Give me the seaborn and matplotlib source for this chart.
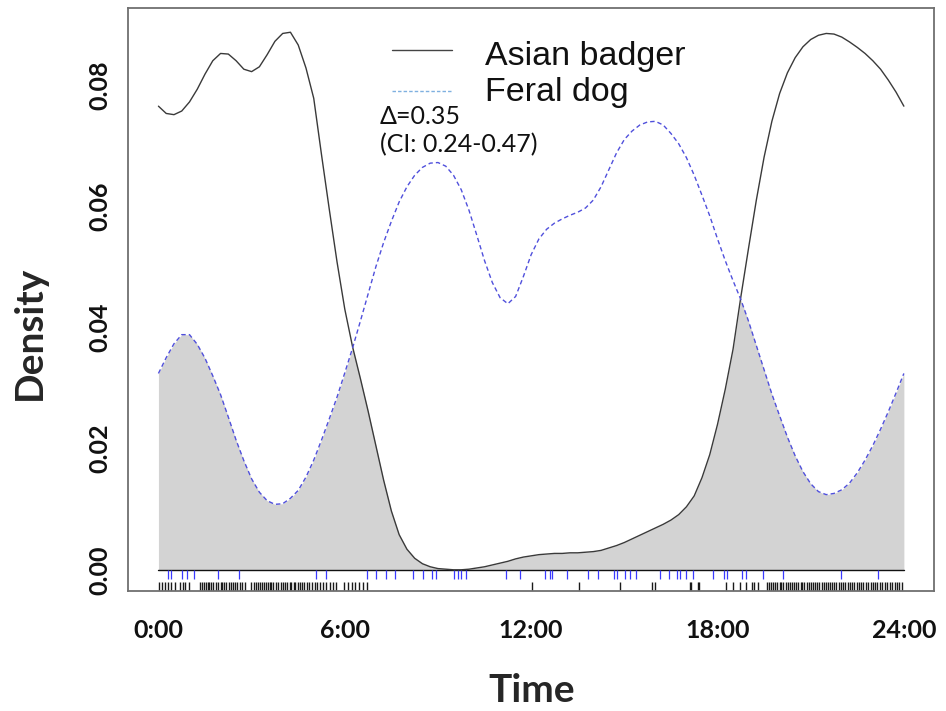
import numpy as np
import pandas as pd
import matplotlib
matplotlib.use("Agg")
import matplotlib.pyplot as plt
from matplotlib.lines import Line2D
import seaborn as sns

# Time-of-day grid (hours) shared by both activity density curves
hours = np.arange(0, 24.01, 0.25)

badger_density = [
    0.0765, 0.0753, 0.0751, 0.0757, 0.0772, 0.0793, 0.0818, 0.0840,
    0.0852, 0.0851, 0.0840, 0.0826, 0.0822, 0.0830, 0.0850, 0.0872,
    0.0885, 0.0887, 0.0866, 0.0828, 0.0778, 0.0685, 0.0595, 0.0508,
    0.0430, 0.0368, 0.0316, 0.0262, 0.0205, 0.0148, 0.0097, 0.0058,
    0.0034, 0.0019, 0.0010, 0.0005, 0.0002, 0.0001, 0.0000, 0.0000,
    0.0001, 0.0003, 0.0005, 0.0008, 0.0011, 0.0014, 0.0018, 0.0021,
    0.0023, 0.0025, 0.0026, 0.0027, 0.0027, 0.0028, 0.0028, 0.0029,
    0.0030, 0.0032, 0.0036, 0.0040, 0.0045, 0.0051, 0.0057, 0.0063,
    0.0069, 0.0075, 0.0082, 0.0091, 0.0104, 0.0122, 0.0152, 0.0190,
    0.0240, 0.0298, 0.0364, 0.0450, 0.0531, 0.0610, 0.0681, 0.0740,
    0.0786, 0.0820, 0.0845, 0.0863, 0.0875, 0.0882, 0.0885, 0.0884,
    0.0879, 0.0871, 0.0862, 0.0852, 0.0840, 0.0826, 0.0808, 0.0788,
    0.0765,
]

dog_density = [
    0.0324, 0.0350, 0.0373, 0.0388, 0.0388, 0.0372, 0.0349, 0.0320,
    0.0289, 0.0252, 0.0214, 0.0180, 0.0150, 0.0128, 0.0114, 0.0108,
    0.0109, 0.0118, 0.0131, 0.0153, 0.0181, 0.0214, 0.0249, 0.0285,
    0.0325, 0.0366, 0.0410, 0.0455, 0.0500, 0.0540, 0.0575, 0.0607,
    0.0632, 0.0651, 0.0664, 0.0671, 0.0672, 0.0666, 0.0651, 0.0627,
    0.0593, 0.0552, 0.0510, 0.0474, 0.0449, 0.0439, 0.0451, 0.0484,
    0.0520, 0.0546, 0.0562, 0.0572, 0.0579, 0.0585, 0.0590, 0.0597,
    0.0610, 0.0632, 0.0660, 0.0688, 0.0710, 0.0724, 0.0734, 0.0739,
    0.0740, 0.0734, 0.0720, 0.0703, 0.0680, 0.0651, 0.0618, 0.0584,
    0.0546, 0.0510, 0.0477, 0.0446, 0.0410, 0.0370, 0.0330, 0.0290,
    0.0254, 0.0219, 0.0188, 0.0162, 0.0142, 0.0129, 0.0124, 0.0126,
    0.0132, 0.0143, 0.0160, 0.0181, 0.0205, 0.0232, 0.0261, 0.0292,
    0.0324,
]

# Detection times (hours) of each species, shown as rugs
dog_times = [
    0.30, 0.41, 0.76, 0.92, 1.14, 1.91, 2.58, 5.06, 5.40, 6.71, 7.01, 7.33,
    7.63, 8.19, 8.51, 8.81, 8.94, 9.53, 9.64, 9.75, 9.89, 11.20, 11.63,
    12.44, 12.60, 12.66, 13.14, 13.84, 14.16, 14.66, 14.75, 15.02, 15.18,
    15.39, 16.14, 16.44, 16.68, 16.79, 17.00, 17.21, 17.84, 18.20, 18.29,
    18.80, 18.91, 19.45, 20.11, 21.99, 23.17,
]

badger_times = [
    0.03, 0.12, 0.22, 0.31, 0.40, 0.52, 0.68, 0.79, 0.84, 1.00,
    1.33, 1.40, 1.46, 1.52, 1.58, 1.63, 1.70, 1.76, 1.85, 1.93, 2.01, 2.05,
    2.12, 2.18, 2.26, 2.33, 2.40, 2.47, 2.53, 2.62, 2.70, 2.79,
    2.98, 3.07, 3.15, 3.20, 3.27, 3.33, 3.40, 3.46, 3.52, 3.58, 3.63, 3.70,
    3.78, 3.85, 3.93, 4.02, 4.09, 4.15, 4.22, 4.28, 4.35, 4.41, 4.48, 4.55,
    4.62, 4.70, 4.78, 4.86, 4.95, 5.03, 5.12, 5.20, 5.30, 5.41, 5.52, 5.63,
    5.71, 5.97, 6.10, 6.22, 6.33, 6.45, 6.60, 6.72,
    12.04, 13.54, 14.87, 15.90, 15.98, 17.10, 17.16, 17.37, 17.42,
    18.27, 18.50, 18.72, 18.93, 19.10, 19.18, 19.30, 19.58, 19.66, 19.72,
    19.80, 19.86, 19.93, 20.00, 20.06, 20.12, 20.20, 20.27, 20.33, 20.40,
    20.47, 20.52, 20.60, 20.68, 20.73, 20.80, 20.88, 20.95, 21.02, 21.08,
    21.15, 21.20, 21.27, 21.35, 21.42, 21.48, 21.55, 21.62, 21.70, 21.76,
    21.83, 21.90, 21.98, 22.05, 22.12, 22.20, 22.26, 22.33, 22.40, 22.48,
    22.55, 22.62, 22.70, 22.78, 22.85, 22.93, 23.00, 23.08, 23.15, 23.22,
    23.30, 23.38, 23.46, 23.55, 23.62, 23.70, 23.78, 23.85, 23.93,
]

x_ticks = [0, 6, 12, 18, 24]
x_tick_labels = ["0:00", "6:00", "12:00", "18:00", "24:00"]
y_ticks = [0.00, 0.02, 0.04, 0.06, 0.08]
y_tick_labels = ["0.00", "0.02", "0.04", "0.06", "0.08"]
species = ["Asian badger", "Feral dog"]
overlap_text = ["\u0394=0.35", "(CI: 0.24-0.47)"]

sns.set_theme(style="white")
plt.rcParams["font.family"] = ["Lato", "DejaVu Sans"]

W, H = 946, 711
fig = plt.figure(figsize=(W / 100, H / 100), dpi=100)
ax = fig.add_axes([128 / W, 1 - 591 / H, (934 - 128) / W, (591 - 8) / H])

df = pd.DataFrame({"hour": hours, "badger": badger_density, "dog": dog_density})

# Shaded overlap: area under the lower of the two curves
ax.fill_between(df["hour"], 0, np.minimum(df["badger"], df["dog"]),
                color="#d3d3d3", lw=0, zorder=1)
ax.plot([0, 24], [0, 0], color="#111111", lw=1.0, zorder=2)

sns.lineplot(data=df, x="hour", y="badger", ax=ax, color="#3a3a3a",
             lw=1.0, zorder=3)
sns.lineplot(data=df, x="hour", y="dog", ax=ax, color="#5050dc",
             lw=1.0, zorder=3)
ax.lines[-1].set_dashes([3.2, 2.2])

# Rugs: feral dog just below zero, badger along the bottom edge
ax.vlines(dog_times, -0.0015, 0.0, color="#3a3aff", lw=0.9, zorder=2)
sns.rugplot(x=badger_times, ax=ax, height=0.016, color="#1a1a1a",
            lw=0.9, expand_margins=False)

ax.set_xlim(-0.98, 24.97)
ax.set_ylim(-0.0035, 0.0927)

ax.set_xticks(x_ticks)
ax.set_xticklabels(x_tick_labels, fontsize=18, fontweight="bold")
ax.set_yticks(y_ticks)
ax.set_yticklabels(y_tick_labels, fontsize=18, fontweight="bold",
                   rotation=90, va="center")
ax.tick_params(axis="both", direction="out", length=10, width=1.1,
               color="#444444", labelcolor="#111111")
ax.tick_params(axis="x", pad=10)
ax.tick_params(axis="y", pad=2)

ax.set_xlabel("Time", fontsize=28, fontweight="bold")
ax.set_ylabel("Density", fontsize=28, fontweight="bold")
ax.xaxis.label.set_va("center")
ax.yaxis.label.set_va("center")
ax.xaxis.set_label_coords((532 - 128) / (934 - 128), -(690 - 591) / (591 - 8))
ax.yaxis.set_label_coords(-(128 - 29) / (934 - 128), (591 - 333) / (591 - 8))

for sp in ax.spines.values():
    sp.set_color("#707070")
    sp.set_linewidth(1.3)

# Legend drawn in figure pixels
def fx(px):
    return px / W

def fy(py):
    return 1 - py / H

fig.add_artist(Line2D([fx(392), fx(452)], [fy(50), fy(50)],
                      transform=fig.transFigure, color="#444444", lw=1.0))
fig.add_artist(Line2D([fx(392), fx(452)], [fy(91), fy(91)],
                      transform=fig.transFigure, color="#7fb0e0", lw=1.0,
                      dashes=[2.5, 1.5]))
fig.text(fx(485), fy(65), species[0], fontsize=24.5,
         family=["Liberation Sans"], va="baseline", ha="left", color="#111111")
fig.text(fx(485), fy(101), species[1], fontsize=24.5,
         family=["Liberation Sans"], va="baseline", ha="left", color="#111111")

fig.text(fx(380), fy(124), overlap_text[0], fontsize=18, va="baseline",
         ha="left", color="#111111")
fig.text(fx(380), fy(152), overlap_text[1], fontsize=18, va="baseline",
         ha="left", color="#111111")

fig.savefig("out.png", dpi=100)
